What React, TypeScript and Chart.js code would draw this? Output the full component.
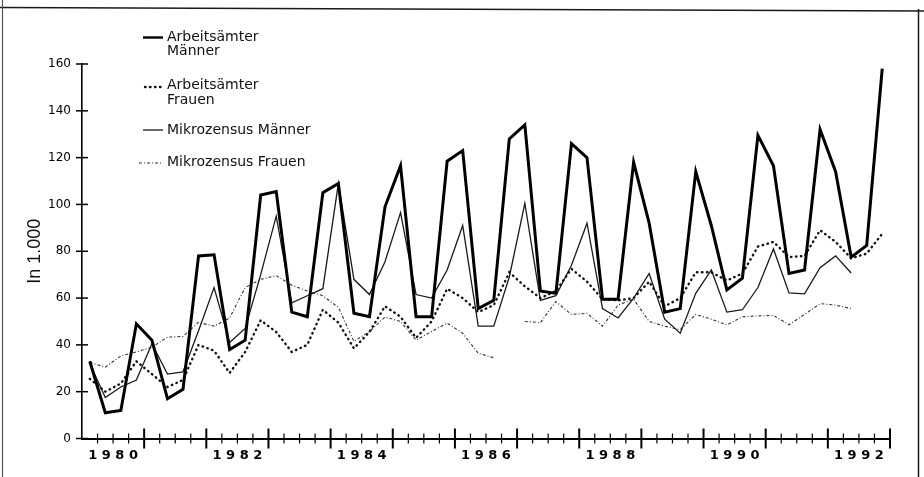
import { useEffect, useRef } from "react";
import { Chart, registerables } from "chart.js";

Chart.register(...registerables);

// ---------- data ----------
const YEARS = [1980, 1981, 1982, 1983, 1984, 1985, 1986, 1987, 1988, 1989, 1990, 1991, 1992];
const Y_TICK_VALUES = [0, 20, 40, 60, 80, 100, 120, 140, 160];
const Y_AXIS_TITLE = "In 1.000";

const SERIES_LABELS = [
  "Arbeitsämter Männer",
  "Arbeitsämter Frauen",
  "Mikrozensus Männer",
  "Mikrozensus Frauen",
];
const LEGEND_LINES = [
  ["Arbeitsämter", "Männer"],
  ["Arbeitsämter", "Frauen"],
  ["Mikrozensus Männer"],
  ["Mikrozensus Frauen"],
];

// quarterly values, 1980 Q1 ... 1992 Q4
const ARBEITSAEMTER_MAENNER = [
  33, 11, 12, 49, 42, 17, 21, 78, 78.5, 38, 42, 104, 105.5, 54, 52, 105, 109, 53.5, 52, 99,
  116.5, 52, 52, 118.5, 123, 55.5, 59, 128, 134, 63, 62, 126, 120, 59.5, 59.5, 118, 92, 54,
  55.5, 114, 91, 63.5, 68.5, 129.5, 116.5, 70.5, 72, 132, 114, 77.5, 82.5, 158,
];
const ARBEITSAEMTER_FRAUEN = [
  25.5, 20, 23.5, 33, 27.5, 22, 25, 40, 37.5, 28, 37, 50.5, 45.5, 37, 40, 55, 49.5, 38.5, 45.5,
  56.5, 52, 43, 50, 64, 60, 54, 57, 71, 65, 60, 63, 72.5, 67, 59.5, 59, 60, 67, 56.5, 60, 71, 71,
  67.5, 70.5, 82, 84, 77.5, 78, 89, 84, 77, 79, 87.5,
];
const MIKROZENSUS_MAENNER = [
  32, 17.5, 22, 25, 40.5, 27.5, 28.5, 46, 64.5, 41, 47, 70, 95, 58, 61, 64, 109, 68, 61.5, 75.5,
  96.5, 61.5, 60, 72, 91, 48, 48, 69, 100.5, 59, 61, 74, 92, 55.5, 51.5, 60, 70.5, 51, 45, 62, 72,
  54, 55, 64.5, 81, 62.2, 61.8, 73, 78, 70.7, null, null,
];
const MIKROZENSUS_FRAUEN = [
  32.5, 30.5, 35.3, 37, 39, 43.3, 43.6, 49.6, 48, 51.5, 64.5, 68, 69.6, 65.5, 63, 61, 56, 41.5,
  45.7, 51.9, 50, 42, 45.7, 49.3, 45, 36.4, 34.5, null, 50, 49.5, 58.5, 53, 53.5, 48, 57, 59.5, 50,
  48, 46.5, 53, 51, 48.5, 52, 52.4, 52.6, 48.6, 53, 57.6, 57, 55.5, null, null,
];

const QUARTERS_PER_YEAR = 4;

function toPoints(values: (number | null)[]) {
  // each value sits in the middle of its quarter
  return values.map((v, i) => ({ x: i + 0.5, y: v }));
}

// ---------- plugins ----------
const framePlugin = {
  id: "frame",
  beforeDraw(chart: any) {
    const { ctx, width, height } = chart;
    ctx.save();
    ctx.fillStyle = "#ffffff";
    ctx.fillRect(0, 0, width, height);
    ctx.strokeStyle = "#1a1a1a";
    ctx.lineWidth = 1.5;
    ctx.beginPath();
    ctx.moveTo(0, 7.5);
    ctx.lineTo(width, 11);
    ctx.moveTo(918.5, 9);
    ctx.lineTo(918.5, height);
    ctx.stroke();
    ctx.strokeStyle = "#555";
    ctx.lineWidth = 1.2;
    ctx.beginPath();
    ctx.moveTo(2.5, 0);
    ctx.lineTo(2.5, height);
    ctx.stroke();
    ctx.restore();
  },
};

const tickMarksPlugin = {
  id: "tickMarks",
  afterDraw(chart: any) {
    const { ctx } = chart;
    const xs = chart.scales.x;
    const ys = chart.scales.y;
    const axisY = ys.getPixelForValue(0);
    const axisX = xs.getPixelForValue(0);
    ctx.save();
    ctx.strokeStyle = "#000";
    xs.ticks.forEach((t: any) => {
      const v = t.value;
      if (v === 0) return;
      const px = xs.getPixelForValue(v);
      const major = v % QUARTERS_PER_YEAR === 0;
      const len = major ? 10 : 5;
      ctx.lineWidth = major ? 2 : 1.2;
      ctx.beginPath();
      ctx.moveTo(px, axisY - len);
      ctx.lineTo(px, axisY + len);
      ctx.stroke();
    });
    ys.ticks.forEach((t: any) => {
      const py = ys.getPixelForValue(t.value);
      ctx.lineWidth = 1.5;
      ctx.beginPath();
      ctx.moveTo(axisX - 6, py);
      ctx.lineTo(axisX + 6, py);
      ctx.stroke();
    });
    ctx.restore();
  },
};

const LEGEND_LAYOUT = [
  { sampleY: 37.5, x0: 143, x1: 163, lineY: [37, 51] },
  { sampleY: 87, x0: 145, x1: 161, lineY: [85.5, 100] },
  { sampleY: 130, x0: 143, x1: 163, lineY: [130] },
  { sampleY: 163, x0: 139, x1: 162, lineY: [162] },
];

const legendPlugin = {
  id: "customLegend",
  afterDraw(chart: any) {
    const { ctx } = chart;
    ctx.save();
    chart.data.datasets.forEach((ds: any, i: number) => {
      const lay = LEGEND_LAYOUT[i];
      if (!lay) return;
      ctx.strokeStyle = ds.borderColor;
      ctx.lineWidth = Math.min(ds.borderWidth, 2.4);
      ctx.lineCap = ds.borderCapStyle || "butt";
      ctx.setLineDash(ds.borderDash || []);
      ctx.beginPath();
      ctx.moveTo(lay.x0, lay.sampleY);
      ctx.lineTo(lay.x1, lay.sampleY);
      ctx.stroke();
      ctx.setLineDash([]);
      ctx.fillStyle = "#111";
      ctx.font = "14px 'DejaVu Sans'";
      ctx.textBaseline = "middle";
      ctx.textAlign = "left";
      LEGEND_LINES[i].forEach((line, j) => {
        ctx.fillText(line, 167, lay.lineY[j]);
      });
    });
    ctx.restore();
  },
};

export default function App() {
  const ref = useRef<HTMLCanvasElement>(null);

  useEffect(() => {
    const canvas = ref.current;
    if (!canvas) return;
    const totalQuarters = YEARS.length * QUARTERS_PER_YEAR;

    const chart = new Chart(canvas, {
      type: "line",
      data: {
        datasets: [
          {
            label: SERIES_LABELS[0],
            data: toPoints(ARBEITSAEMTER_MAENNER),
            borderColor: "#000000",
            borderWidth: 3,
            borderJoinStyle: "miter",
            pointRadius: 0,
            tension: 0,
          },
          {
            label: SERIES_LABELS[1],
            data: toPoints(ARBEITSAEMTER_FRAUEN),
            borderColor: "#111111",
            borderWidth: 2.4,
            borderDash: [0.5, 4.5],
            borderCapStyle: "round",
            pointRadius: 0,
            tension: 0,
          },
          {
            label: SERIES_LABELS[2],
            data: toPoints(MIKROZENSUS_MAENNER),
            borderColor: "#1a1a1a",
            borderWidth: 1.3,
            pointRadius: 0,
            tension: 0,
            spanGaps: false,
          },
          {
            label: SERIES_LABELS[3],
            data: toPoints(MIKROZENSUS_FRAUEN),
            borderColor: "#333333",
            borderWidth: 1.1,
            borderDash: [3, 2, 1, 2],
            pointRadius: 0,
            tension: 0,
            spanGaps: false,
          },
        ] as any,
      },
      options: {
        animation: false,
        responsive: false,
        events: [],
        layout: { padding: { left: 0, top: 64, right: 34, bottom: 0 } },
        plugins: {
          legend: { display: false },
          tooltip: { enabled: false },
          title: { display: false },
        },
        scales: {
          x: {
            type: "linear",
            min: 0,
            max: totalQuarters,
            grid: { display: false, drawTicks: false },
            border: { display: true, color: "#000", width: 2 },
            afterFit: (s: any) => {
              s.height = 38.5;
            },
            ticks: {
              stepSize: 1,
              autoSkip: false,
              maxRotation: 0,
              minRotation: 0,
              padding: 9,
              color: "#000",
              font: { family: "'DejaVu Sans'", size: 13, weight: "bold" },
              callback: (value: any) => {
                const q = Number(value);
                if (q % QUARTERS_PER_YEAR !== 2) return "";
                const year = YEARS[(q - 2) / QUARTERS_PER_YEAR];
                if (year === undefined || year % 2 !== 0) return "";
                return String(year).split("").join(" ");
              },
            },
          },
          y: {
            type: "linear",
            min: Y_TICK_VALUES[0],
            max: Y_TICK_VALUES[Y_TICK_VALUES.length - 1],
            grid: { display: false, drawTicks: false },
            border: { display: true, color: "#000", width: 1.6 },
            afterFit: (s: any) => {
              s.width = 82;
            },
            ticks: {
              stepSize: Y_TICK_VALUES[1] - Y_TICK_VALUES[0],
              padding: 11,
              color: "#000",
              font: { family: "'DejaVu Sans'", size: 12 },
            },
            title: {
              display: true,
              text: Y_AXIS_TITLE,
              color: "#111",
              font: { family: "'Liberation Sans'", size: 18 },
              padding: { top: 24, bottom: 0 },
            },
          },
        },
      } as any,
      plugins: [framePlugin, tickMarksPlugin, legendPlugin],
    });

    return () => chart.destroy();
  }, []);

  return (
    <div
      style={{
        position: "fixed",
        left: 0,
        top: 0,
        width: 924,
        height: 477,
        background: "#fff",
      }}
    >
      <canvas ref={ref} width={924} height={477} style={{ display: "block", width: 924, height: 477 }} />
    </div>
  );
}
